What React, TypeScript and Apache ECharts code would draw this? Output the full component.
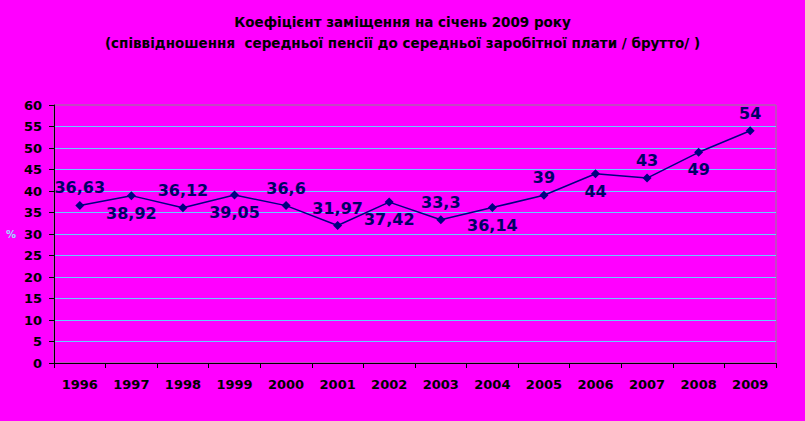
import React, { useEffect, useRef } from "react";
import * as echarts from "echarts";

const years = ["1996", "1997", "1998", "1999", "2000", "2001", "2002", "2003", "2004", "2005", "2006", "2007", "2008", "2009"];
const ratio = [36.63, 38.92, 36.12, 39.05, 36.6, 31.97, 37.42, 33.3, 36.14, 39, 44, 43, 49, 54];
const yTicks = { min: 0, max: 60, interval: 5 };
const titleLines = [
  "Коефіцієнт заміщення на січень 2009 року",
  "(співвідношення  середньої пенсії до середньої заробітної плати / брутто/ )",
];
const axisUnit = "%";

const labelSides = ["top", "bottom", "top", "bottom", "top", "top", "bottom", "top", "bottom", "top", "bottom", "top", "bottom", "top"];

export default function App() {
  const ref = useRef<HTMLDivElement>(null);
  useEffect(() => {
    document.body.style.margin = "0";
    document.body.style.background = "#FF00FF";
    const chart = echarts.init(ref.current!, undefined, { renderer: "svg" });
    const font = "DejaVu Sans";
    const axisText = {
      color: "#000000",
      fontFamily: font,
      fontWeight: "bold" as const,
      fontSize: 13,
      textShadowColor: "#99ddff",
      textShadowOffsetX: -1,
      textShadowOffsetY: -1,
      textShadowBlur: 0,
    };
    chart.setOption({
      animation: false,
      backgroundColor: "#FF00FF",
      title: {
        text: titleLines.join("\n"),
        left: "center",
        top: 6,
        textStyle: {
          color: "#000000",
          fontFamily: font,
          fontWeight: "bold",
          fontSize: 13.5,
          lineHeight: 21,
          textShadowColor: "#99ddff",
          textShadowOffsetX: -1,
          textShadowOffsetY: -1,
          textShadowBlur: 0,
        },
      },
      grid: {
        left: 54,
        right: 29,
        top: 105,
        bottom: 58,
        show: true,
        borderColor: "#8a8a8a",
        borderWidth: 1,
        backgroundColor: "transparent",
      },
      xAxis: {
        type: "category",
        data: years,
        boundaryGap: true,
        axisLine: { lineStyle: { color: "#000000", width: 1 } },
        axisTick: { show: true, length: 5, alignWithLabel: false, lineStyle: { color: "#000000" } },
        axisLabel: { ...axisText, margin: 15 },
        splitLine: { show: false },
      },
      yAxis: {
        type: "value",
        min: yTicks.min,
        max: yTicks.max,
        interval: yTicks.interval,
        name: axisUnit,
        nameLocation: "middle",
        nameRotate: 0,
        nameGap: 38,
        nameTextStyle: { ...axisText, fontSize: 10, color: "#99ddff", textShadowColor: "transparent" },
        axisLine: { show: true, lineStyle: { color: "#000000", width: 1 } },
        axisTick: { show: true, length: 5, lineStyle: { color: "#000000" } },
        axisLabel: { ...axisText, margin: 12 },
        splitLine: { show: true, showMaxLine: false, lineStyle: { color: "#66ccff", width: 1 } },
      },
      series: [
        {
          type: "line",
          data: ratio.map((v, i) => ({
            value: v,
            label: { position: labelSides[i] },
          })),
          symbol: "diamond",
          symbolSize: 9,
          itemStyle: { color: "#000080" },
          lineStyle: { color: "#000080", width: 1.5 },
          label: {
            show: true,
            distance: 5,
            formatter: (p: any) => String(p.value).replace(".", ","),
            color: "#000066",
            fontFamily: font,
            fontWeight: "bold",
            fontSize: 16,
            textShadowColor: "#ffffcc",
            textShadowOffsetX: -1,
            textShadowOffsetY: -1,
            textShadowBlur: 0,
          },
        },
      ],
    });
    return () => chart.dispose();
  }, []);
  return <div ref={ref} style={{ width: 805, height: 421 }} />;
}
